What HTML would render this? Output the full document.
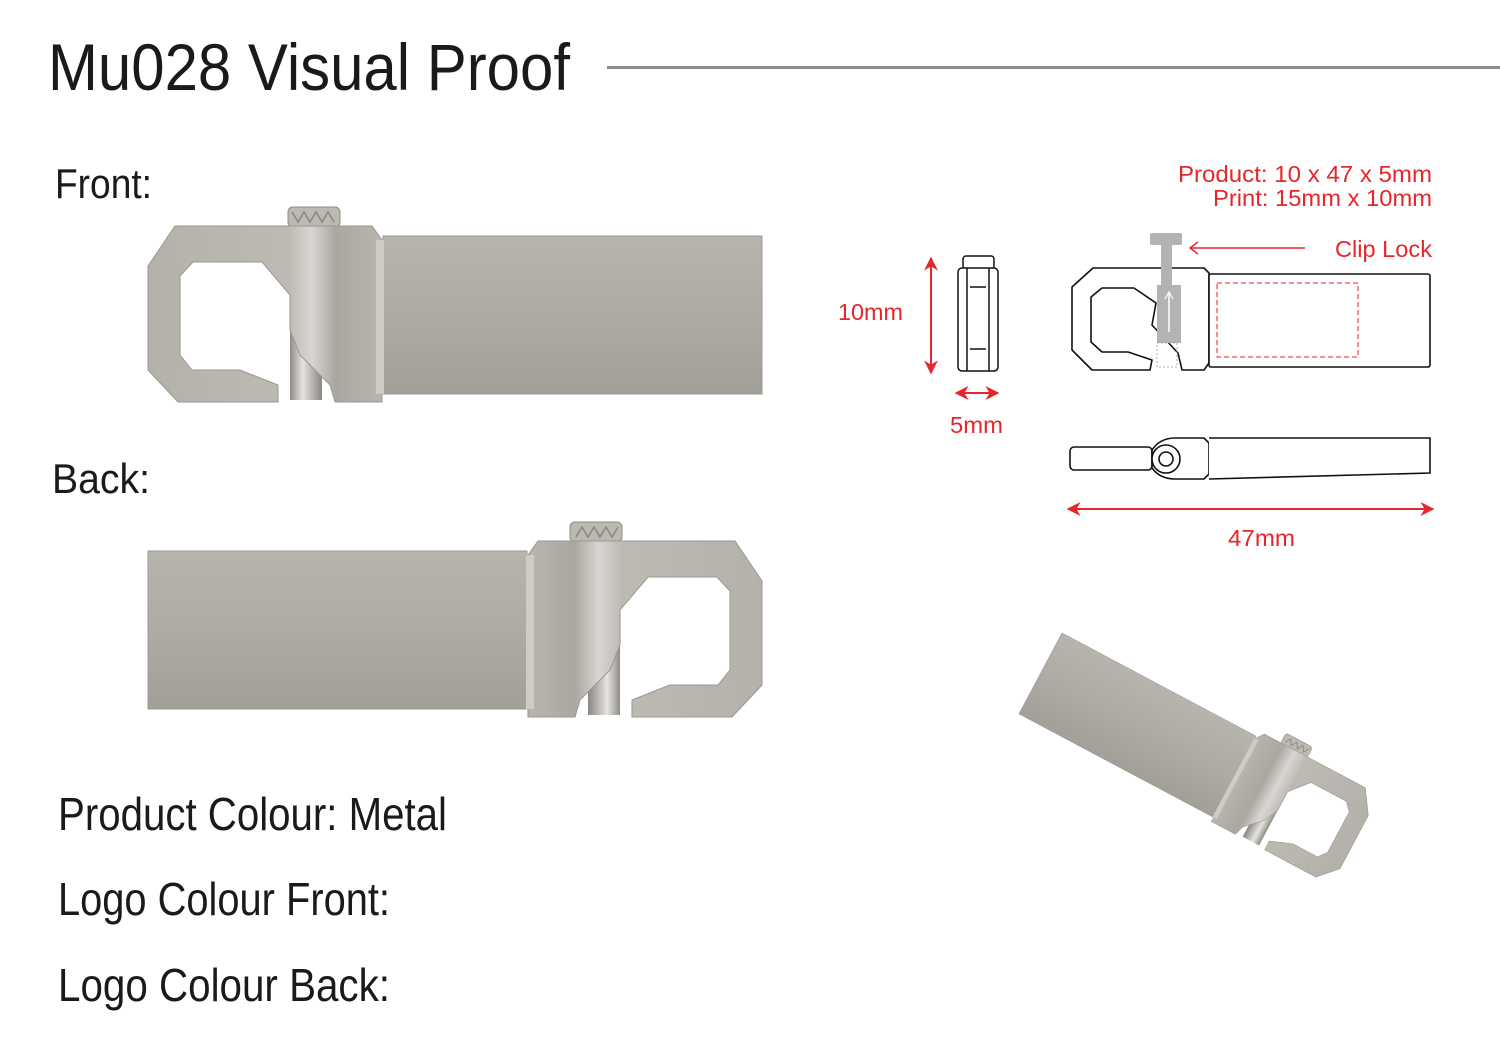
<!DOCTYPE html>
<html><head><meta charset="utf-8"><style>
html,body{margin:0;padding:0;background:#fff;}
svg{display:block;}
text{font-family:"Liberation Sans",sans-serif;}
</style></head><body>
<svg width="1500" height="1060" viewBox="0 0 1500 1060" xmlns="http://www.w3.org/2000/svg">
<defs>
<linearGradient id="bodyG" x1="0" y1="0" x2="0" y2="1">
<stop offset="0" stop-color="#b7b4ad"/><stop offset="0.5" stop-color="#aeaba4"/><stop offset="1" stop-color="#a29f98"/>
</linearGradient>
<linearGradient id="hookG" x1="0" y1="0" x2="1" y2="0">
<stop offset="0" stop-color="#b4b1aa"/><stop offset="0.6" stop-color="#bdbab3"/><stop offset="0.7" stop-color="#d8d6d1"/><stop offset="0.8" stop-color="#aaa7a0"/><stop offset="1" stop-color="#b8b5ae"/>
</linearGradient>
<linearGradient id="pinG" x1="0" y1="0" x2="1" y2="0">
<stop offset="0" stop-color="#8f8c86"/><stop offset="0.4" stop-color="#e6e4e0"/><stop offset="1" stop-color="#8a8781"/>
</linearGradient>
<marker id="ah" viewBox="0 0 10 10" refX="9" refY="5" markerWidth="7" markerHeight="7" orient="auto-start-reverse">
<path d="M0,0 L10,5 L0,10 L3,5 Z" fill="#e5262b"/>
</marker>
<g id="dev">
<rect x="288" y="207" width="52" height="20" rx="5" fill="#bcb9b2" stroke="#8e8b85" stroke-width="1"/>
<path d="M292,212 l6,10 l6,-10 l6,10 l6,-10 l6,10 l6,-10 l6,10" stroke="#8a877f" fill="none" stroke-width="1.5"/>
<rect x="290" y="330" width="32" height="70" fill="url(#pinG)"/>
<path fill="url(#hookG)" stroke="#9a978f" stroke-width="1" d="M175,226 L372,226 L382,240 L382,402 L335,402 L330,385 L300,355 L290,330 L290,295 L262,262 L193,262 L180,276 L180,355 L192,370 L240,370 L278,385 L278,402 L178,402 L148,370 L148,266 Z"/>
<rect x="383" y="236" width="379" height="158" fill="url(#bodyG)" stroke="#9c9992" stroke-width="1"/>
<rect x="376" y="240" width="8" height="154" fill="#cfccc6"/>
</g>
</defs>

<text x="48" y="90" font-size="66" textLength="522" lengthAdjust="spacingAndGlyphs" fill="#1a1a1a">Mu028 Visual Proof</text>
<rect x="607" y="66" width="893" height="3" fill="#8c8c8c"/>

<text x="55" y="198" font-size="42" textLength="97" lengthAdjust="spacingAndGlyphs" fill="#1a1a1a">Front:</text>
<text x="52" y="493" font-size="42" textLength="98" lengthAdjust="spacingAndGlyphs" fill="#1a1a1a">Back:</text>
<text x="58" y="830" font-size="46" textLength="389" lengthAdjust="spacingAndGlyphs" fill="#1a1a1a">Product Colour: Metal</text>
<text x="58" y="915" font-size="46" textLength="332" lengthAdjust="spacingAndGlyphs" fill="#1a1a1a">Logo Colour Front:</text>
<text x="58" y="1001" font-size="46" textLength="332" lengthAdjust="spacingAndGlyphs" fill="#1a1a1a">Logo Colour Back:</text>

<use href="#dev"/>
<use href="#dev" transform="translate(910,315) scale(-1,1)"/>
<use href="#dev" transform="translate(1062,633) rotate(28) scale(0.58) translate(-148,-551) translate(910,315) scale(-1,1)"/>

<g fill="#e5262b" font-size="23">
<text x="1432" y="182" text-anchor="end" textLength="254" lengthAdjust="spacingAndGlyphs">Product: 10 x 47 x 5mm</text>
<text x="1432" y="206" text-anchor="end" textLength="219" lengthAdjust="spacingAndGlyphs">Print: 15mm x 10mm</text>
<text x="1335" y="257" textLength="97" lengthAdjust="spacingAndGlyphs">Clip Lock</text>
<text x="838" y="320" textLength="65" lengthAdjust="spacingAndGlyphs">10mm</text>
<text x="950" y="433" textLength="53" lengthAdjust="spacingAndGlyphs">5mm</text>
<text x="1228" y="546" textLength="67" lengthAdjust="spacingAndGlyphs">47mm</text>
</g>
<g stroke="#e5262b" stroke-width="2" fill="none">
<line x1="931" y1="258" x2="931" y2="373" marker-start="url(#ah)" marker-end="url(#ah)"/>
<line x1="956" y1="393" x2="998" y2="393" marker-start="url(#ah)" marker-end="url(#ah)"/>
<line x1="1068" y1="509" x2="1433" y2="509" marker-start="url(#ah)" marker-end="url(#ah)"/>
<line x1="1305" y1="248" x2="1190" y2="248" stroke-width="1.5"/>
<path d="M1198,242 L1190,248 L1198,254" stroke-width="1.5"/>
</g>

<g stroke="#111" stroke-width="1.5" fill="#fff">
<rect x="963" y="256" width="31" height="13" rx="3"/>
<rect x="958" y="268" width="40" height="103" rx="4"/>
<line x1="967" y1="268" x2="967" y2="371"/>
<line x1="989" y1="268" x2="989" y2="371"/>
<line x1="970" y1="287" x2="986" y2="287"/>
<line x1="970" y1="349" x2="986" y2="349"/>
</g>

<g stroke="#111" stroke-width="1.6" fill="#fff" stroke-linejoin="round">
<path fill-rule="evenodd" d="M1093,268 L1204,268 L1209,273 L1209,363 L1204,370 L1182,370 L1178,353 L1152,325 L1156,303 L1134,288 L1102,288 L1091,297 L1091,342 L1102,352 L1128,352 L1152,360 L1150,370 L1092,370 L1072,350 L1072,287 Z"/>
<rect x="1209" y="274" width="221" height="93" rx="2"/>
</g>
<rect x="1217" y="283" width="141" height="74" fill="none" stroke="#e5262b" stroke-width="1" stroke-dasharray="5,3"/>
<g fill="#b3b3b3">
<rect x="1150" y="233" width="32" height="12" rx="2"/>
<rect x="1161" y="245" width="11" height="40"/>
<rect x="1157" y="285" width="24" height="58"/>
</g>
<line x1="1169" y1="332" x2="1169" y2="294" stroke="#fff" stroke-width="1.5"/>
<path d="M1165,299 L1169,292 L1173,299" stroke="#fff" fill="none" stroke-width="1.2"/>
<rect x="1157" y="343" width="20" height="24" fill="none" stroke="#999" stroke-width="0.8" stroke-dasharray="2,2"/>

<g stroke="#111" stroke-width="1.6" fill="#fff">
<rect x="1070" y="447" width="82" height="23" rx="4"/>
<path d="M1152,450 Q1160,438 1175,438 L1204,438 L1209,443 L1209,474 L1204,479 L1175,479 Q1160,479 1152,468 Z"/>
<path d="M1209,438 L1430,438 L1430,473 L1209,479"/>
<circle cx="1166" cy="459" r="14"/>
<circle cx="1166" cy="459" r="7"/>
</g>
</svg>
</body></html>
